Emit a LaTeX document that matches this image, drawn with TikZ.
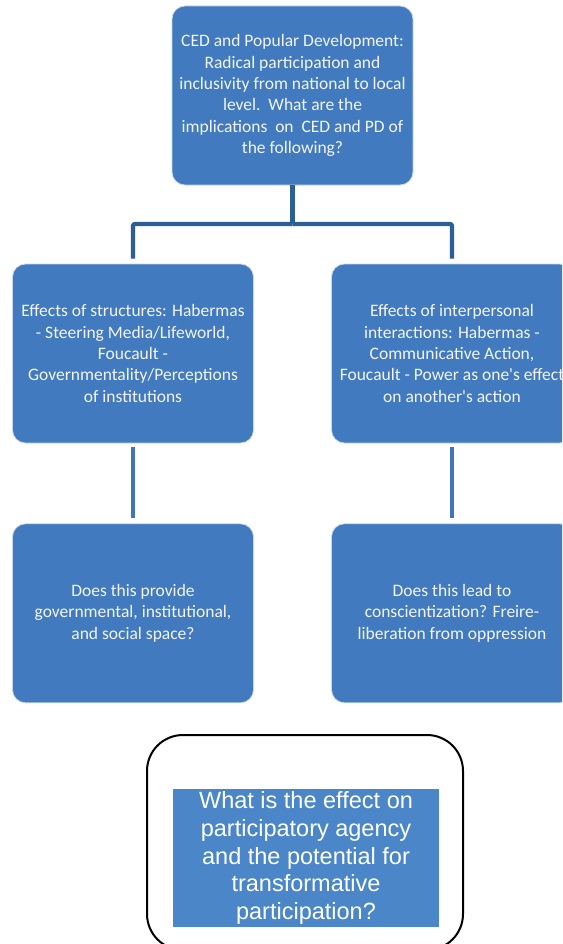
\documentclass[tikz,border=0pt]{standalone}
\usepackage{fontspec}
\setmainfont{Carlito}
\newfontfamily\arialfont{Liberation Sans}
\usetikzlibrary{positioning}
\definecolor{BoxBlue}{HTML}{417ABF}
\definecolor{TreeBlue}{HTML}{2C5F95}
\definecolor{StemBlue}{HTML}{4275B8}
\definecolor{AskBlue}{HTML}{4A86C8}
\definecolor{PaleText}{HTML}{F4F4F4}

\begin{document}
\begin{tikzpicture}[
        x=1pt, y=-1pt,
        card/.style={draw=white!70!BoxBlue, line width=0.8pt, fill=BoxBlue,
                     rounded corners=13pt, minimum width=241pt, minimum height=179pt,
                     align=center, text=PaleText, inner sep=2pt,
                     font=\fontsize{17.5}{21.3}\selectfont},
        tree/.style={draw=TreeBlue, line width=4.2pt, rounded corners=2pt},
        stem/.style={draw=StemBlue, line width=4pt, shorten <=4pt, shorten >=5pt},
        frame/.style={draw=black, line width=2pt, rounded corners=36pt,
                      minimum width=316pt, minimum height=215pt},
        ask/.style={fill=AskBlue, minimum width=266pt, minimum height=138pt,
                    inner sep=0pt, align=center, text=white,
                    font=\arialfont\fontsize{23.5}{27.6}\selectfont},
      ]
        \path[use as bounding box, clip] (0,0) rectangle (562,944);
        \fill[white] (0,0) rectangle (562,944);
        % top question
        \node[card] (top) at (292.5,95.5) {CED and Popular Development:\\Radical participation and\\inclusivity from national to local\\level.\ \ What are the\\implications\ \ on\ \ CED and PD of\\the following?};
        % two branches
        \node[card] (struct) at (133,353.5) {Effects of structures: Habermas\\- Steering Media/Lifeworld,\\Foucault -\\Governmentality/Perceptions\\of institutions};
        \node[card] (inter) at (452,353.5) {Effects of interpersonal\\interactions: Habermas -\\Communicative Action,\\Foucault - Power as one\textquotesingle s effect\\on another\textquotesingle s action};
        \node[card, below=80pt of struct] (space) {Does this provide\\governmental, institutional,\\and social space?};
        \node[card, below=80pt of inter] (consc) {Does this lead to\\conscientization? Freire-\\liberation from oppression};
        \coordinate (fork) at (292.5,224);
        \draw[tree] (top.south) -- (fork);
        \draw[tree, shorten >=5pt] (fork) -| (struct.north);
        \draw[tree, shorten >=5pt] (fork) -| (inter.north);
        \draw[stem] (struct.south) -- (space.north);
        \draw[stem] (inter.south) -- (consc.north);
        % closing question
        \node[frame] (outer) at (305,842.5) {};
        \node[ask] (agency) at (306,858) {What is the effect on\\participatory agency\\and the potential for\\transformative\\participation?};
      \end{tikzpicture}
\end{document}
